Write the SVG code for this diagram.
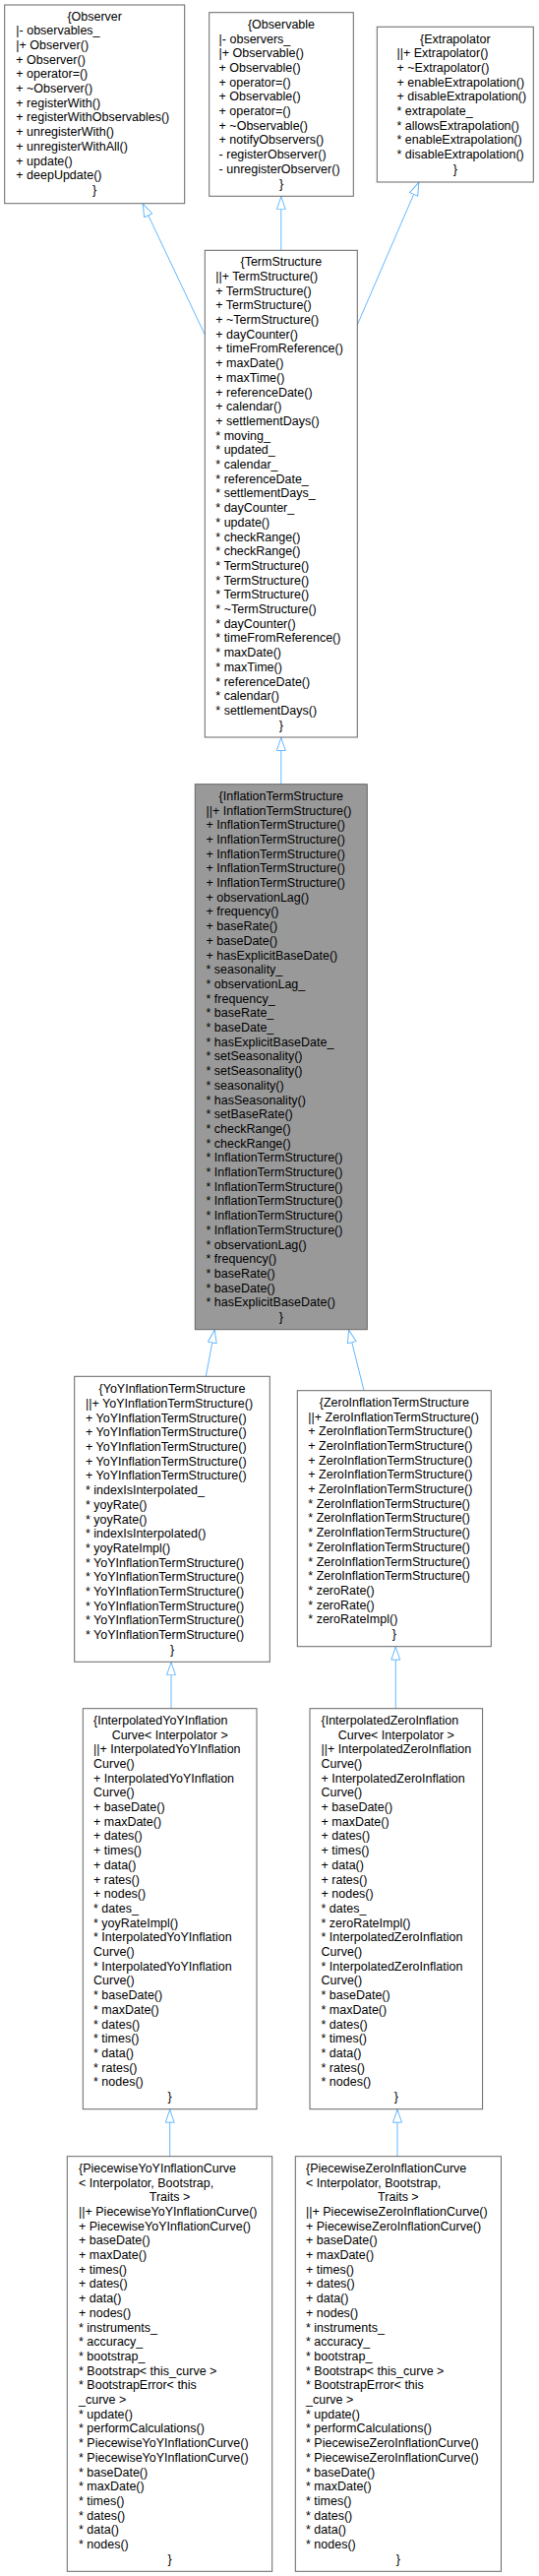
<svg xmlns="http://www.w3.org/2000/svg" width="548" height="2617" viewBox="0 0 548 2617">
<style>
.node rect{fill:#ffffff;stroke:#666666;stroke-width:1}
.cur rect{fill:#999999}
text{font-family:"Liberation Sans",Arial,Helvetica,sans-serif;font-size:12.5px;fill:#000000}
.c{text-anchor:middle}
.edge{stroke:#63b8ff;stroke-width:1;fill:none;marker-end:url(#inh)}
</style>
<defs>
<marker id="inh" markerUnits="userSpaceOnUse" viewBox="0 0 14 10" refX="14" refY="5" markerWidth="14" markerHeight="10" orient="auto">
<path d="M0.5,0.5 L13.5,5 L0.5,9.5 Z" fill="#ffffff" stroke="#63b8ff" stroke-width="1"/>
</marker>
</defs>
<rect x="0" y="0" width="548" height="2617" fill="#ffffff"/>
<g id="edges">
<path class="edge" d="M208.3,340 L145,206.7"/>
<path class="edge" d="M285.8,254.3 L285.8,199.3"/>
<path class="edge" d="M363.3,330 L426,185"/>
<path class="edge" d="M285.8,796.7 L285.8,749"/>
<path class="edge" d="M209.3,1398.3 L218.3,1350.7"/>
<path class="edge" d="M370,1412.7 L354.5,1350.7"/>
<path class="edge" d="M174,1735.7 L174,1688.3"/>
<path class="edge" d="M402.3,1735.7 L402.3,1672.7"/>
<path class="edge" d="M172.7,2190.7 L172.7,2142.7"/>
<path class="edge" d="M404,2190.7 L404,2142.7"/>
</g>
<g id="Observer" class="node">
<rect x="4.7" y="5" width="183" height="201.7"/>
<text class="c" x="96.2" y="20.5">{Observer</text>
<text x="16.3"><tspan x="16.3" y="35.2">|- observables_</tspan><tspan x="16.3" y="49.9">|+ Observer()</tspan><tspan x="16.3" y="64.6">+ Observer()</tspan><tspan x="16.3" y="79.3">+ operator=()</tspan><tspan x="16.3" y="94">+ ~Observer()</tspan><tspan x="16.3" y="108.7">+ registerWith()</tspan><tspan x="16.3" y="123.4">+ registerWithObservables()</tspan><tspan x="16.3" y="138.1">+ unregisterWith()</tspan><tspan x="16.3" y="152.8">+ unregisterWithAll()</tspan><tspan x="16.3" y="167.5">+ update()</tspan><tspan x="16.3" y="182.2">+ deepUpdate()</tspan></text>
<text class="c" x="96.2" y="196.9">}</text>
</g>
<g id="Observable" class="node">
<rect x="212.7" y="12.7" width="146.6" height="186.6"/>
<text class="c" x="286" y="28.8">{Observable</text>
<text x="222.6"><tspan x="222.6" y="43.5">|- observers_</tspan><tspan x="222.6" y="58.2">|+ Observable()</tspan><tspan x="222.6" y="72.9">+ Observable()</tspan><tspan x="222.6" y="87.6">+ operator=()</tspan><tspan x="222.6" y="102.3">+ Observable()</tspan><tspan x="222.6" y="117">+ operator=()</tspan><tspan x="222.6" y="131.7">+ ~Observable()</tspan><tspan x="222.6" y="146.4">+ notifyObservers()</tspan><tspan x="222.6" y="161.1">- registerObserver()</tspan><tspan x="222.6" y="175.8">- unregisterObserver()</tspan></text>
<text class="c" x="286" y="190.5">}</text>
</g>
<g id="Extrapolator" class="node">
<rect x="383.3" y="27.3" width="159" height="157.7"/>
<text class="c" x="462.8" y="43.5">{Extrapolator</text>
<text x="403.5"><tspan x="403.5" y="58.2">||+ Extrapolator()</tspan><tspan x="403.5" y="72.9">+ ~Extrapolator()</tspan><tspan x="403.5" y="87.6">+ enableExtrapolation()</tspan><tspan x="403.5" y="102.3">+ disableExtrapolation()</tspan><tspan x="403.5" y="117">* extrapolate_</tspan><tspan x="403.5" y="131.7">* allowsExtrapolation()</tspan><tspan x="403.5" y="146.4">* enableExtrapolation()</tspan><tspan x="403.5" y="161.1">* disableExtrapolation()</tspan></text>
<text class="c" x="462.8" y="175.8">}</text>
</g>
<g id="TermStructure" class="node">
<rect x="208.3" y="254.3" width="155" height="494.7"/>
<text class="c" x="285.8" y="270.2">{TermStructure</text>
<text x="219.3"><tspan x="219.3" y="284.9">||+ TermStructure()</tspan><tspan x="219.3" y="299.6">+ TermStructure()</tspan><tspan x="219.3" y="314.3">+ TermStructure()</tspan><tspan x="219.3" y="329">+ ~TermStructure()</tspan><tspan x="219.3" y="343.7">+ dayCounter()</tspan><tspan x="219.3" y="358.4">+ timeFromReference()</tspan><tspan x="219.3" y="373.1">+ maxDate()</tspan><tspan x="219.3" y="387.8">+ maxTime()</tspan><tspan x="219.3" y="402.5">+ referenceDate()</tspan><tspan x="219.3" y="417.2">+ calendar()</tspan><tspan x="219.3" y="431.9">+ settlementDays()</tspan><tspan x="219.3" y="446.6">* moving_</tspan><tspan x="219.3" y="461.3">* updated_</tspan><tspan x="219.3" y="476">* calendar_</tspan><tspan x="219.3" y="490.7">* referenceDate_</tspan><tspan x="219.3" y="505.4">* settlementDays_</tspan><tspan x="219.3" y="520.1">* dayCounter_</tspan><tspan x="219.3" y="534.8">* update()</tspan><tspan x="219.3" y="549.5">* checkRange()</tspan><tspan x="219.3" y="564.2">* checkRange()</tspan><tspan x="219.3" y="578.9">* TermStructure()</tspan><tspan x="219.3" y="593.6">* TermStructure()</tspan><tspan x="219.3" y="608.3">* TermStructure()</tspan><tspan x="219.3" y="623">* ~TermStructure()</tspan><tspan x="219.3" y="637.7">* dayCounter()</tspan><tspan x="219.3" y="652.4">* timeFromReference()</tspan><tspan x="219.3" y="667.1">* maxDate()</tspan><tspan x="219.3" y="681.8">* maxTime()</tspan><tspan x="219.3" y="696.5">* referenceDate()</tspan><tspan x="219.3" y="711.2">* calendar()</tspan><tspan x="219.3" y="725.9">* settlementDays()</tspan></text>
<text class="c" x="285.8" y="740.6">}</text>
</g>
<g id="InflationTermStructure" class="node cur">
<rect x="198.3" y="796.7" width="175" height="554"/>
<text class="c" x="285.8" y="812.8">{InflationTermStructure</text>
<text x="209.5"><tspan x="209.5" y="827.5">||+ InflationTermStructure()</tspan><tspan x="209.5" y="842.2">+ InflationTermStructure()</tspan><tspan x="209.5" y="856.9">+ InflationTermStructure()</tspan><tspan x="209.5" y="871.6">+ InflationTermStructure()</tspan><tspan x="209.5" y="886.3">+ InflationTermStructure()</tspan><tspan x="209.5" y="901">+ InflationTermStructure()</tspan><tspan x="209.5" y="915.7">+ observationLag()</tspan><tspan x="209.5" y="930.4">+ frequency()</tspan><tspan x="209.5" y="945.1">+ baseRate()</tspan><tspan x="209.5" y="959.8">+ baseDate()</tspan><tspan x="209.5" y="974.5">+ hasExplicitBaseDate()</tspan><tspan x="209.5" y="989.2">* seasonality_</tspan><tspan x="209.5" y="1003.9">* observationLag_</tspan><tspan x="209.5" y="1018.6">* frequency_</tspan><tspan x="209.5" y="1033.3">* baseRate_</tspan><tspan x="209.5" y="1048">* baseDate_</tspan><tspan x="209.5" y="1062.7">* hasExplicitBaseDate_</tspan><tspan x="209.5" y="1077.4">* setSeasonality()</tspan><tspan x="209.5" y="1092.1">* setSeasonality()</tspan><tspan x="209.5" y="1106.8">* seasonality()</tspan><tspan x="209.5" y="1121.5">* hasSeasonality()</tspan><tspan x="209.5" y="1136.2">* setBaseRate()</tspan><tspan x="209.5" y="1150.9">* checkRange()</tspan><tspan x="209.5" y="1165.6">* checkRange()</tspan><tspan x="209.5" y="1180.3">* InflationTermStructure()</tspan><tspan x="209.5" y="1195">* InflationTermStructure()</tspan><tspan x="209.5" y="1209.7">* InflationTermStructure()</tspan><tspan x="209.5" y="1224.4">* InflationTermStructure()</tspan><tspan x="209.5" y="1239.1">* InflationTermStructure()</tspan><tspan x="209.5" y="1253.8">* InflationTermStructure()</tspan><tspan x="209.5" y="1268.5">* observationLag()</tspan><tspan x="209.5" y="1283.2">* frequency()</tspan><tspan x="209.5" y="1297.9">* baseRate()</tspan><tspan x="209.5" y="1312.6">* baseDate()</tspan><tspan x="209.5" y="1327.3">* hasExplicitBaseDate()</tspan></text>
<text class="c" x="285.8" y="1342">}</text>
</g>
<g id="YoYInflationTermStructure" class="node">
<rect x="75.7" y="1398.3" width="198.6" height="290"/>
<text class="c" x="175" y="1415.2">{YoYInflationTermStructure</text>
<text x="87"><tspan x="87" y="1429.9">||+ YoYInflationTermStructure()</tspan><tspan x="87" y="1444.6">+ YoYInflationTermStructure()</tspan><tspan x="87" y="1459.3">+ YoYInflationTermStructure()</tspan><tspan x="87" y="1474">+ YoYInflationTermStructure()</tspan><tspan x="87" y="1488.7">+ YoYInflationTermStructure()</tspan><tspan x="87" y="1503.4">+ YoYInflationTermStructure()</tspan><tspan x="87" y="1518.1">* indexIsInterpolated_</tspan><tspan x="87" y="1532.8">* yoyRate()</tspan><tspan x="87" y="1547.5">* yoyRate()</tspan><tspan x="87" y="1562.2">* indexIsInterpolated()</tspan><tspan x="87" y="1576.9">* yoyRateImpl()</tspan><tspan x="87" y="1591.6">* YoYInflationTermStructure()</tspan><tspan x="87" y="1606.3">* YoYInflationTermStructure()</tspan><tspan x="87" y="1621">* YoYInflationTermStructure()</tspan><tspan x="87" y="1635.7">* YoYInflationTermStructure()</tspan><tspan x="87" y="1650.4">* YoYInflationTermStructure()</tspan><tspan x="87" y="1665.1">* YoYInflationTermStructure()</tspan></text>
<text class="c" x="175" y="1679.8">}</text>
</g>
<g id="ZeroInflationTermStructure" class="node">
<rect x="302.3" y="1412.7" width="197" height="260"/>
<text class="c" x="400.8" y="1428.8">{ZeroInflationTermStructure</text>
<text x="313.3"><tspan x="313.3" y="1443.5">||+ ZeroInflationTermStructure()</tspan><tspan x="313.3" y="1458.2">+ ZeroInflationTermStructure()</tspan><tspan x="313.3" y="1472.9">+ ZeroInflationTermStructure()</tspan><tspan x="313.3" y="1487.6">+ ZeroInflationTermStructure()</tspan><tspan x="313.3" y="1502.3">+ ZeroInflationTermStructure()</tspan><tspan x="313.3" y="1517">+ ZeroInflationTermStructure()</tspan><tspan x="313.3" y="1531.7">* ZeroInflationTermStructure()</tspan><tspan x="313.3" y="1546.4">* ZeroInflationTermStructure()</tspan><tspan x="313.3" y="1561.1">* ZeroInflationTermStructure()</tspan><tspan x="313.3" y="1575.8">* ZeroInflationTermStructure()</tspan><tspan x="313.3" y="1590.5">* ZeroInflationTermStructure()</tspan><tspan x="313.3" y="1605.2">* ZeroInflationTermStructure()</tspan><tspan x="313.3" y="1619.9">* zeroRate()</tspan><tspan x="313.3" y="1634.6">* zeroRate()</tspan><tspan x="313.3" y="1649.3">* zeroRateImpl()</tspan></text>
<text class="c" x="400.8" y="1664">}</text>
</g>
<g id="InterpolatedYoYInflationCurve" class="node">
<rect x="84.3" y="1735.7" width="176.7" height="407"/>
<text x="95"><tspan x="95" y="1751.8">{InterpolatedYoYInflation</tspan></text>
<text class="c" x="172.7" y="1766.5">Curve&lt; Interpolator &gt;</text>
<text x="95"><tspan x="95" y="1781.2">||+ InterpolatedYoYInflation</tspan><tspan x="95" y="1795.9">Curve()</tspan><tspan x="95" y="1810.6">+ InterpolatedYoYInflation</tspan><tspan x="95" y="1825.3">Curve()</tspan><tspan x="95" y="1840">+ baseDate()</tspan><tspan x="95" y="1854.7">+ maxDate()</tspan><tspan x="95" y="1869.4">+ dates()</tspan><tspan x="95" y="1884.1">+ times()</tspan><tspan x="95" y="1898.8">+ data()</tspan><tspan x="95" y="1913.5">+ rates()</tspan><tspan x="95" y="1928.2">+ nodes()</tspan><tspan x="95" y="1942.9">* dates_</tspan><tspan x="95" y="1957.6">* yoyRateImpl()</tspan><tspan x="95" y="1972.3">* InterpolatedYoYInflation</tspan><tspan x="95" y="1987">Curve()</tspan><tspan x="95" y="2001.7">* InterpolatedYoYInflation</tspan><tspan x="95" y="2016.4">Curve()</tspan><tspan x="95" y="2031.1">* baseDate()</tspan><tspan x="95" y="2045.8">* maxDate()</tspan><tspan x="95" y="2060.5">* dates()</tspan><tspan x="95" y="2075.2">* times()</tspan><tspan x="95" y="2089.9">* data()</tspan><tspan x="95" y="2104.6">* rates()</tspan><tspan x="95" y="2119.3">* nodes()</tspan></text>
<text class="c" x="172.7" y="2134">}</text>
</g>
<g id="InterpolatedZeroInflationCurve" class="node">
<rect x="315" y="1735.7" width="175.6" height="407"/>
<text x="326.5"><tspan x="326.5" y="1751.8">{InterpolatedZeroInflation</tspan></text>
<text class="c" x="402.8" y="1766.5">Curve&lt; Interpolator &gt;</text>
<text x="326.5"><tspan x="326.5" y="1781.2">||+ InterpolatedZeroInflation</tspan><tspan x="326.5" y="1795.9">Curve()</tspan><tspan x="326.5" y="1810.6">+ InterpolatedZeroInflation</tspan><tspan x="326.5" y="1825.3">Curve()</tspan><tspan x="326.5" y="1840">+ baseDate()</tspan><tspan x="326.5" y="1854.7">+ maxDate()</tspan><tspan x="326.5" y="1869.4">+ dates()</tspan><tspan x="326.5" y="1884.1">+ times()</tspan><tspan x="326.5" y="1898.8">+ data()</tspan><tspan x="326.5" y="1913.5">+ rates()</tspan><tspan x="326.5" y="1928.2">+ nodes()</tspan><tspan x="326.5" y="1942.9">* dates_</tspan><tspan x="326.5" y="1957.6">* zeroRateImpl()</tspan><tspan x="326.5" y="1972.3">* InterpolatedZeroInflation</tspan><tspan x="326.5" y="1987">Curve()</tspan><tspan x="326.5" y="2001.7">* InterpolatedZeroInflation</tspan><tspan x="326.5" y="2016.4">Curve()</tspan><tspan x="326.5" y="2031.1">* baseDate()</tspan><tspan x="326.5" y="2045.8">* maxDate()</tspan><tspan x="326.5" y="2060.5">* dates()</tspan><tspan x="326.5" y="2075.2">* times()</tspan><tspan x="326.5" y="2089.9">* data()</tspan><tspan x="326.5" y="2104.6">* rates()</tspan><tspan x="326.5" y="2119.3">* nodes()</tspan></text>
<text class="c" x="402.8" y="2134">}</text>
</g>
<g id="PiecewiseYoYInflationCurve" class="node">
<rect x="68.3" y="2190.7" width="208.4" height="421.6"/>
<text x="80"><tspan x="80" y="2206.8">{PiecewiseYoYInflationCurve</tspan><tspan x="80" y="2221.5">&lt; Interpolator, Bootstrap,</tspan></text>
<text class="c" x="172.5" y="2236.2">Traits &gt;</text>
<text x="80"><tspan x="80" y="2250.9">||+ PiecewiseYoYInflationCurve()</tspan><tspan x="80" y="2265.6">+ PiecewiseYoYInflationCurve()</tspan><tspan x="80" y="2280.3">+ baseDate()</tspan><tspan x="80" y="2295">+ maxDate()</tspan><tspan x="80" y="2309.7">+ times()</tspan><tspan x="80" y="2324.4">+ dates()</tspan><tspan x="80" y="2339.1">+ data()</tspan><tspan x="80" y="2353.8">+ nodes()</tspan><tspan x="80" y="2368.5">* instruments_</tspan><tspan x="80" y="2383.2">* accuracy_</tspan><tspan x="80" y="2397.9">* bootstrap_</tspan><tspan x="80" y="2412.6">* Bootstrap&lt; this_curve &gt;</tspan><tspan x="80" y="2427.3">* BootstrapError&lt; this</tspan><tspan x="80" y="2442">_curve &gt;</tspan><tspan x="80" y="2456.7">* update()</tspan><tspan x="80" y="2471.4">* performCalculations()</tspan><tspan x="80" y="2486.1">* PiecewiseYoYInflationCurve()</tspan><tspan x="80" y="2500.8">* PiecewiseYoYInflationCurve()</tspan><tspan x="80" y="2515.5">* baseDate()</tspan><tspan x="80" y="2530.2">* maxDate()</tspan><tspan x="80" y="2544.9">* times()</tspan><tspan x="80" y="2559.6">* dates()</tspan><tspan x="80" y="2574.3">* data()</tspan><tspan x="80" y="2589">* nodes()</tspan></text>
<text class="c" x="172.5" y="2603.7">}</text>
</g>
<g id="PiecewiseZeroInflationCurve" class="node">
<rect x="300.3" y="2190.7" width="209.2" height="421.6"/>
<text x="311"><tspan x="311" y="2206.8">{PiecewiseZeroInflationCurve</tspan><tspan x="311" y="2221.5">&lt; Interpolator, Bootstrap,</tspan></text>
<text class="c" x="404.9" y="2236.2">Traits &gt;</text>
<text x="311"><tspan x="311" y="2250.9">||+ PiecewiseZeroInflationCurve()</tspan><tspan x="311" y="2265.6">+ PiecewiseZeroInflationCurve()</tspan><tspan x="311" y="2280.3">+ baseDate()</tspan><tspan x="311" y="2295">+ maxDate()</tspan><tspan x="311" y="2309.7">+ times()</tspan><tspan x="311" y="2324.4">+ dates()</tspan><tspan x="311" y="2339.1">+ data()</tspan><tspan x="311" y="2353.8">+ nodes()</tspan><tspan x="311" y="2368.5">* instruments_</tspan><tspan x="311" y="2383.2">* accuracy_</tspan><tspan x="311" y="2397.9">* bootstrap_</tspan><tspan x="311" y="2412.6">* Bootstrap&lt; this_curve &gt;</tspan><tspan x="311" y="2427.3">* BootstrapError&lt; this</tspan><tspan x="311" y="2442">_curve &gt;</tspan><tspan x="311" y="2456.7">* update()</tspan><tspan x="311" y="2471.4">* performCalculations()</tspan><tspan x="311" y="2486.1">* PiecewiseZeroInflationCurve()</tspan><tspan x="311" y="2500.8">* PiecewiseZeroInflationCurve()</tspan><tspan x="311" y="2515.5">* baseDate()</tspan><tspan x="311" y="2530.2">* maxDate()</tspan><tspan x="311" y="2544.9">* times()</tspan><tspan x="311" y="2559.6">* dates()</tspan><tspan x="311" y="2574.3">* data()</tspan><tspan x="311" y="2589">* nodes()</tspan></text>
<text class="c" x="404.9" y="2603.7">}</text>
</g>
</svg>
